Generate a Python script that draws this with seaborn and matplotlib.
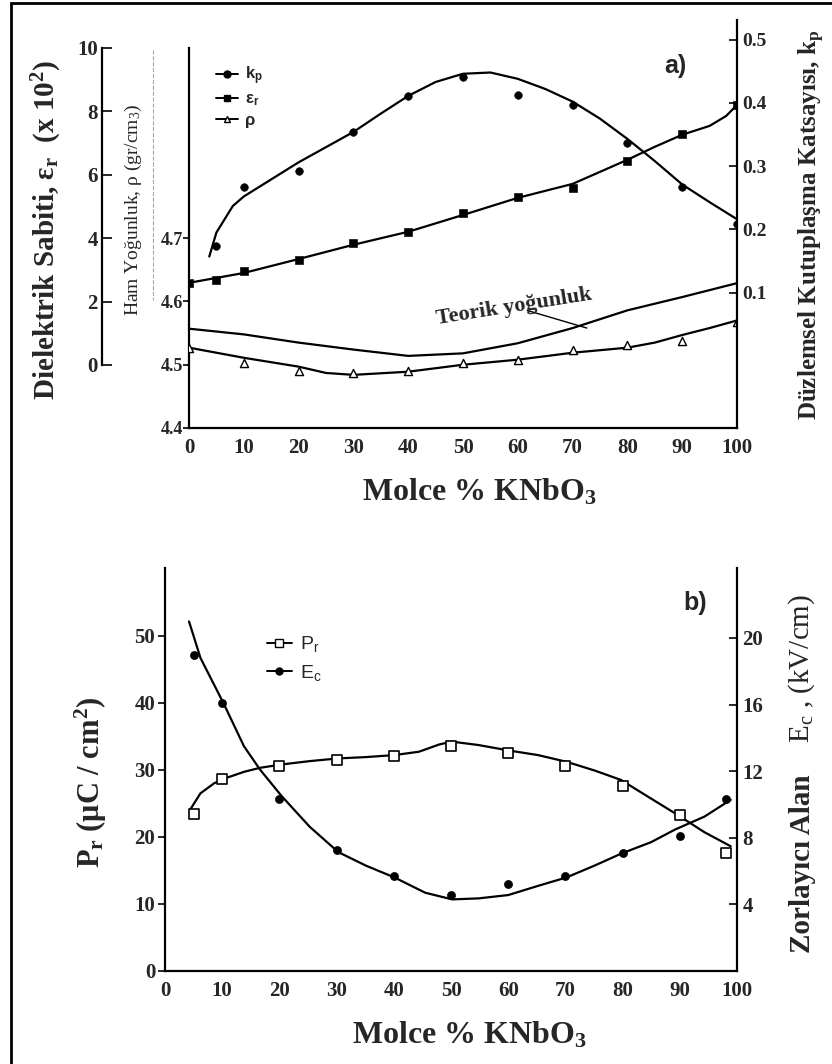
import matplotlib
matplotlib.use('Agg')
import matplotlib.pyplot as plt
import seaborn as sns
from matplotlib.lines import Line2D
from matplotlib.patches import Rectangle

# ---- panel a) data -------------------------------------------------------
X_A = [0, 5, 10, 20, 30, 40, 50, 60, 70, 80, 90, 100]
EPS = [2.59, 2.68, 2.97, 3.31, 3.85, 4.20, 4.79, 5.30, 5.58, 6.44, 7.29, 8.20]
EPS_CURVE_X = [0, 10, 20, 30, 40, 50, 60, 70, 80, 85, 90, 95, 98, 100]
EPS_CURVE = [2.59, 2.90, 3.34, 3.79, 4.20, 4.73, 5.27, 5.71, 6.47, 6.88, 7.26, 7.54, 7.85, 8.20]

X_KP = [5, 10, 20, 30, 40, 50, 60, 70, 80, 90, 100]
KP = [0.173, 0.267, 0.292, 0.354, 0.411, 0.441, 0.413, 0.397, 0.337, 0.267, 0.208]
KP_CURVE_X = [3.7, 5, 8, 10, 15, 20, 25, 30, 35, 40, 45, 50, 55, 60, 65, 70, 75, 80, 85, 90, 95, 100]
KP_CURVE = [0.157, 0.195, 0.237, 0.252, 0.279, 0.306, 0.330, 0.354, 0.383, 0.411, 0.433,
            0.446, 0.448, 0.438, 0.422, 0.402, 0.375, 0.343, 0.308, 0.271, 0.243, 0.216]

X_RHO = [0, 10, 20, 30, 40, 50, 60, 70, 80, 90, 100]
RHO = [4.527, 4.503, 4.490, 4.487, 4.490, 4.503, 4.508, 4.524, 4.532, 4.537, 4.568]
RHO_CURVE_X = [0, 10, 20, 25, 30, 40, 50, 60, 70, 80, 85, 90, 95, 100]
RHO_CURVE = [4.527, 4.511, 4.497, 4.487, 4.484, 4.489, 4.500, 4.508, 4.519, 4.527,
             4.535, 4.547, 4.558, 4.570]
THEO_X = [0, 10, 20, 30, 40, 50, 60, 70, 80, 90, 100]
THEO_RHO = [4.557, 4.548, 4.535, 4.524, 4.514, 4.518, 4.534, 4.558, 4.586, 4.607, 4.629]

# ---- panel b) data -------------------------------------------------------
X_B = [5, 10, 20, 30, 40, 50, 60, 70, 80, 90, 98]
PR = [23.4, 28.6, 30.6, 31.5, 32.1, 33.5, 32.5, 30.5, 27.6, 23.2, 17.6]
EC = [18.96, 16.12, 10.32, 7.28, 5.68, 4.54, 5.25, 5.72, 7.08, 8.09, 10.32]
PR_CURVE_X = [4.5, 6.2, 8.6, 10.4, 13.8, 16.6, 20.4, 25.3, 30.2, 35.1, 40.1, 44.4, 48, 50.2,
              54.8, 60, 65.2, 70.2, 75.1, 79.7, 85, 89.2, 94.3, 98.9]
PR_CURVE = [24.2, 26.5, 28.0, 28.7, 29.7, 30.3, 30.8, 31.3, 31.7, 31.9, 32.2, 32.7, 33.8, 34.2,
            33.7, 32.9, 32.2, 31.2, 29.9, 28.5, 25.7, 23.5, 20.7, 18.6]
EC_CURVE_X = [4.2, 6.2, 10.2, 13.8, 16.6, 20.4, 25.3, 30.3, 35.1, 40.1, 45.5, 50.2,
              54.8, 60, 65.2, 70.2, 75.1, 79.7, 85, 89.2, 94.3, 98.9]
EC_CURVE = [20.99, 18.8, 16.1, 13.5, 12.1, 10.5, 8.66, 7.14, 6.33, 5.62, 4.70, 4.30,
            4.36, 4.56, 5.11, 5.62, 6.33, 7.04, 7.74, 8.50, 9.27, 10.28]

X_TICKS = list(range(0, 101, 10))
RHO_TICKS = [4.4, 4.5, 4.6, 4.7]
EPS_TICKS = [0, 2, 4, 6, 8, 10]
KP_TICKS = [0.1, 0.2, 0.3, 0.4, 0.5]
PR_TICKS = [0, 10, 20, 30, 40, 50]
EC_TICKS = [4, 8, 12, 16, 20]

sns.set_style('white')
plt.rcParams['font.family'] = ['Liberation Serif', 'DejaVu Serif']
plt.rcParams['font.weight'] = 'bold'
plt.rcParams['mathtext.default'] = 'regular'
plt.rcParams['axes.linewidth'] = 1.6

W, H = 832, 1064
fig = plt.figure(figsize=(W / 100, H / 100), dpi=100)

LW = 1.6
SANS = ['Liberation Sans', 'DejaVu Sans']
TICK_FS = 15


def only_spines(ax, keep):
    for name, sp in ax.spines.items():
        sp.set_visible(name in keep)
        sp.set_color('black')


# =============================== panel a ==================================
ax_a = fig.add_axes([189 / W, 1 - 428 / H, 548 / W, 408 / H])
ax_kp = ax_a.twinx()
ax_eps = ax_a.twinx()

# density (main axis)
sns.lineplot(x=THEO_X, y=THEO_RHO, ax=ax_a, color='black', lw=LW)
sns.lineplot(x=RHO_CURVE_X, y=RHO_CURVE, ax=ax_a, color='black', lw=LW)
sns.scatterplot(x=X_RHO, y=RHO, ax=ax_a, marker='^', s=34, facecolor='white',
                edgecolor='black', linewidth=1.0, zorder=4)
ax_a.set_xlim(0, 100)
ax_a.set_ylim(4.4, 5.045)
ax_a.set_xticks(X_TICKS)
ax_a.set_yticks(RHO_TICKS)
ax_a.set_yticklabels([f'{v:.1f}' for v in RHO_TICKS])
only_spines(ax_a, ['left', 'bottom'])
ax_a.spines['left'].set_bounds(4.4, 5.0)
ax_a.tick_params(axis='x', direction='in', length=6, width=1.4, pad=7, labelsize=TICK_FS)
ax_a.tick_params(axis='y', direction='out', length=4, width=1.4, pad=0, labelsize=13)

# coupling coefficient (right axis)
sns.lineplot(x=KP_CURVE_X, y=KP_CURVE, ax=ax_kp, color='black', lw=LW)
sns.scatterplot(x=X_KP, y=KP, ax=ax_kp, marker='o', s=30, color='black',
                edgecolor='black', zorder=4)
ax_kp.set_ylim(-0.114, 0.531)
ax_kp.set_yticks(KP_TICKS)
ax_kp.set_yticklabels([f'{v:.1f}' for v in KP_TICKS])
only_spines(ax_kp, ['right'])
ax_kp.tick_params(axis='y', direction='in', length=6, width=1.4, pad=4, labelsize=14)

# dielectric constant (detached left axis)
sns.lineplot(x=EPS_CURVE_X, y=EPS_CURVE, ax=ax_eps, color='black', lw=LW)
sns.scatterplot(x=X_A, y=EPS, ax=ax_eps, marker='s', s=30, color='black',
                edgecolor='black', zorder=4)
ax_eps.set_ylim(-1.99, 10.88)
ax_eps.set_yticks(EPS_TICKS)
only_spines(ax_eps, ['left'])
ax_eps.spines['left'].set_position(('axes', -87 / 548))
ax_eps.spines['left'].set_bounds(0, 10)
ax_eps.yaxis.tick_left()
ax_eps.tick_params(axis='y', direction='in', length=7, width=1.4, pad=3, labelsize=TICK_FS)

for ax in (ax_a, ax_kp, ax_eps):
    ax.set_xlabel('')
    ax.set_ylabel('')

legend_a = [
    Line2D([], [], color='black', lw=1.4, marker='o', ms=5, label='k$_p$'),
    Line2D([], [], color='black', lw=1.4, marker='s', ms=5, label='ε$_r$'),
    Line2D([], [], color='black', lw=1.4, marker='^', ms=5, mfc='white', label='ρ'),
]
ax_kp.legend(handles=legend_a, loc='upper left', bbox_to_anchor=(0.05, 0.89),
             frameon=False, borderpad=0, borderaxespad=0, handlelength=1.3,
             handletextpad=0.4, labelspacing=0.25,
             prop={'family': SANS, 'size': 12, 'weight': 'bold'})

ax_a.annotate('Teorik yoğunluk', xy=(72.6, 4.558), xytext=(59.3, 4.592),
              ha='center', va='center', rotation=9, fontsize=16,
              arrowprops=dict(arrowstyle='-', color='black', lw=1.0,
                              shrinkA=10, shrinkB=0))

fig.text(675 / W, 1 - 66 / H, 'a)', fontsize=18, fontweight='bold',
         family=SANS, ha='center', va='center')
fig.text(47 / W, 1 - 230 / H, 'Dielektrik Sabiti, ε$_r$  (x 10$^2$)', rotation=90,
         fontsize=21, ha='center', va='center')
fig.text(133 / W, 1 - 210 / H, 'Ham Yoğunluk, ρ (gr/cm$_3$)', rotation=90,
         fontsize=14, fontweight='normal', ha='center', va='center')
fig.text(812 / W, 1 - 225 / H, 'Düzlemsel Kutuplaşma Katsayısı, k$_p$', rotation=90,
         fontsize=18, ha='center', va='center')
fig.text(479 / W, 1 - 492 / H, 'Molce % KNbO$_3$', fontsize=23,
         ha='center', va='center')
fig.add_artist(Line2D([153 / W, 153 / W], [1 - 50 / H, 1 - 300 / H],
                      transform=fig.transFigure, color='0.65', lw=0.8, ls='--'))

# =============================== panel b ==================================
ax_b = fig.add_axes([165 / W, 1 - 971 / H, 572 / W, 403 / H])
ax_ec = ax_b.twinx()

sns.lineplot(x=PR_CURVE_X, y=PR_CURVE, ax=ax_b, color='black', lw=LW)
sns.scatterplot(x=X_B, y=PR, ax=ax_b, marker='s', s=48, facecolor='white',
                edgecolor='black', linewidth=1.2, zorder=4)
ax_b.set_xlim(0, 100)
ax_b.set_ylim(0, 60.1)
ax_b.set_xticks(X_TICKS)
ax_b.set_yticks(PR_TICKS)
only_spines(ax_b, ['left', 'bottom'])
ax_b.tick_params(axis='x', direction='in', length=6, width=1.4, pad=7, labelsize=TICK_FS)
ax_b.tick_params(axis='y', direction='out', length=5, width=1.4, pad=2, labelsize=TICK_FS)

sns.lineplot(x=EC_CURVE_X, y=EC_CURVE, ax=ax_ec, color='black', lw=LW)
sns.scatterplot(x=X_B, y=EC, ax=ax_ec, marker='o', s=34, color='black',
                edgecolor='black', zorder=4)
ax_ec.set_ylim(0, 24.2)
ax_ec.set_yticks(EC_TICKS)
only_spines(ax_ec, ['right'])
ax_ec.tick_params(axis='y', direction='in', length=6, width=1.4, pad=4, labelsize=TICK_FS)

for ax in (ax_b, ax_ec):
    ax.set_xlabel('')
    ax.set_ylabel('')

legend_b = [
    Line2D([], [], color='black', lw=1.4, marker='s', ms=6, mfc='white', label='P$_r$'),
    Line2D([], [], color='black', lw=1.4, marker='o', ms=5, label='E$_c$'),
]
ax_ec.legend(handles=legend_b, loc='upper left', bbox_to_anchor=(0.178, 0.835),
             frameon=False, borderpad=0, borderaxespad=0, handlelength=1.3,
             handletextpad=0.4, labelspacing=0.45,
             prop={'family': SANS, 'size': 14, 'weight': 'normal'})

fig.text(695 / W, 1 - 603 / H, 'b)', fontsize=18, fontweight='bold',
         family=SANS, ha='center', va='center')
fig.text(91 / W, 1 - 782 / H, 'P$_r$ (μC / cm$^2$)', rotation=90,
         fontsize=22, ha='center', va='center')
fig.text(802 / W, 1 - 864 / H, 'Zorlayıcı Alan', rotation=90,
         fontsize=21, ha='center', va='center')
fig.text(802 / W, 1 - 668 / H, 'E$_c$ , (kV/cm)', rotation=90,
         fontsize=21, fontweight='normal', ha='center', va='center')
fig.text(469 / W, 1 - 1035 / H, 'Molce % KNbO$_3$', fontsize=23,
         ha='center', va='center')

# scanned-page frame: only left and top edges are visible
fig.add_artist(Rectangle((10.5 / W, -0.05), 1.1, 1.05 - 3 / H,
                         transform=fig.transFigure, fill=False, ec='black', lw=2))

fig.savefig('out.png', dpi=100, facecolor='white')
